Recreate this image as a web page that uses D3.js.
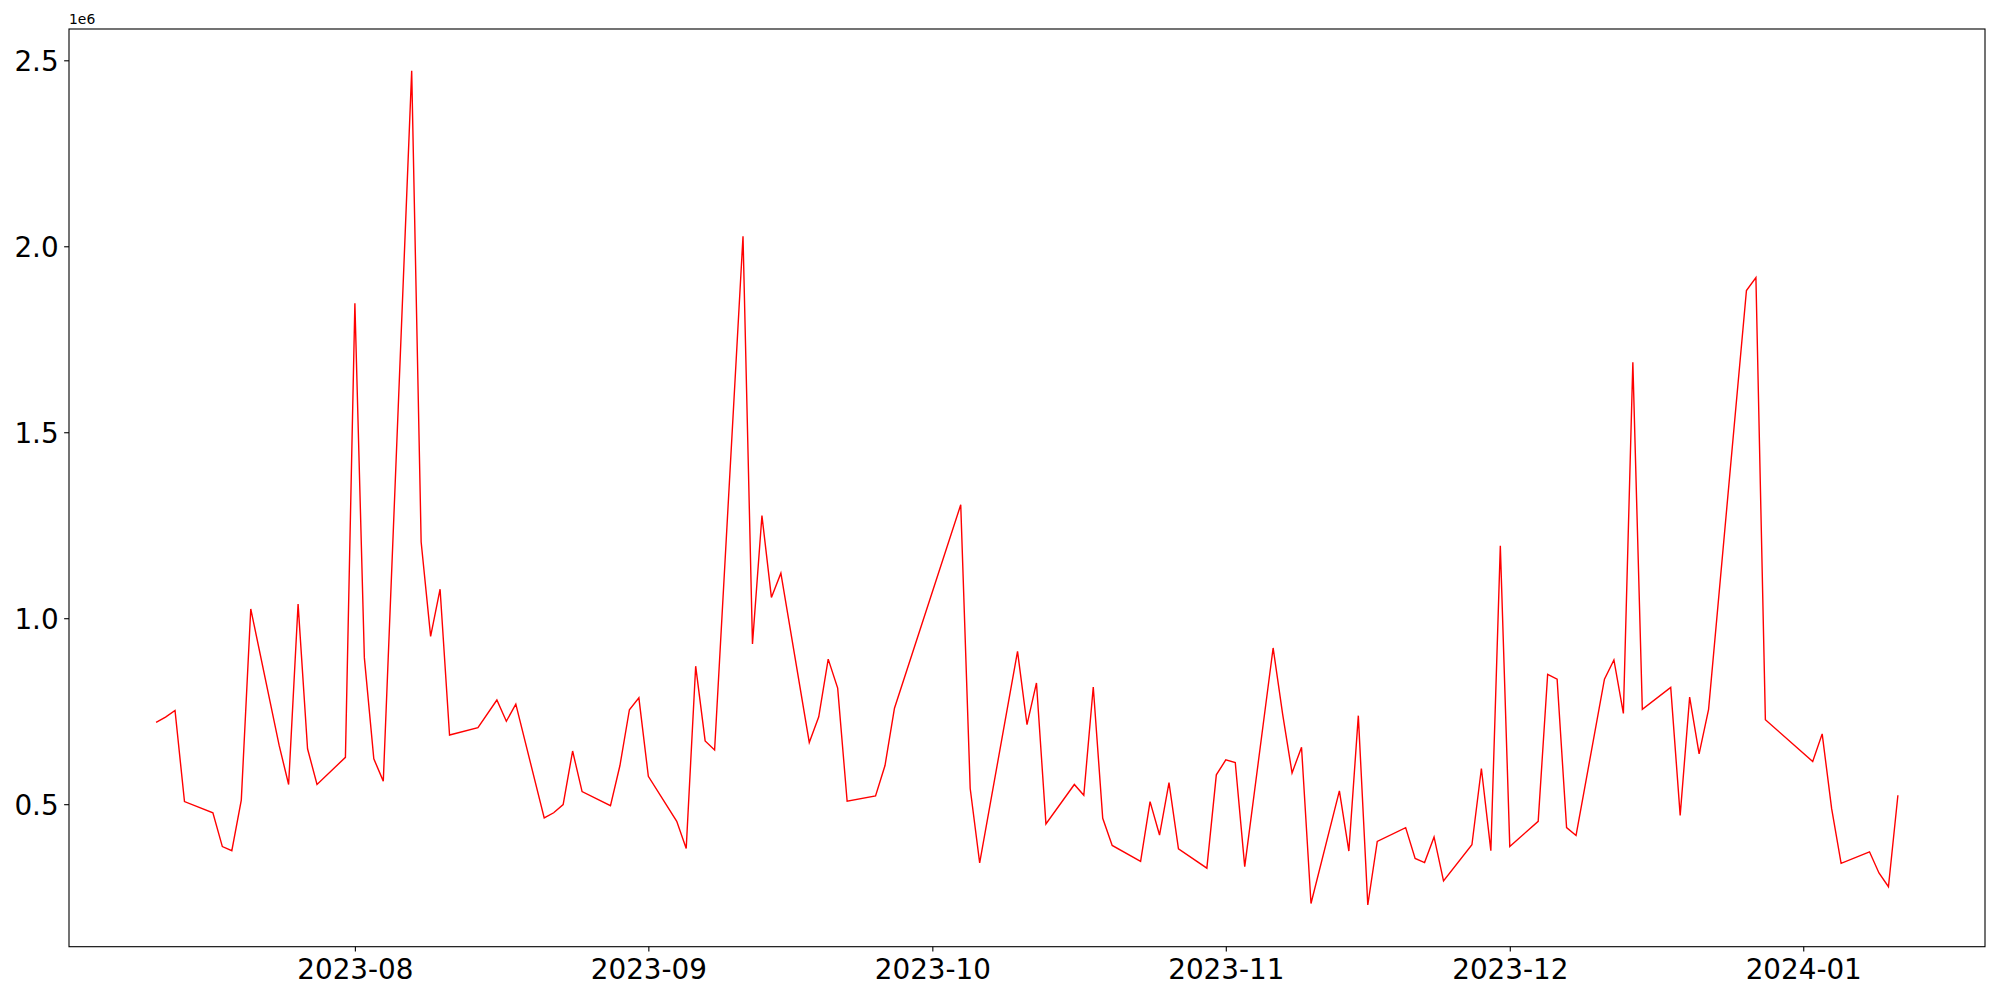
<!DOCTYPE html>
<html>
<head>
<meta charset="utf-8">
<script src="https://cdn.jsdelivr.net/npm/d3@7"></script>
<style>
  html, body { margin: 0; padding: 0; background: #fff; }
  svg { display: block; }
  text { font-family: "DejaVu Sans", sans-serif; fill: #000; }
</style>
</head>
<body>
<svg id="chart" width="2000" height="1000"></svg>
<script>
const dates = [
  "2023-07-11","2023-07-12","2023-07-13","2023-07-14","2023-07-17","2023-07-18","2023-07-19","2023-07-20","2023-07-21",
  "2023-07-24","2023-07-25","2023-07-26","2023-07-27","2023-07-28","2023-07-31",
  "2023-08-01","2023-08-02","2023-08-03","2023-08-04","2023-08-07","2023-08-08","2023-08-09","2023-08-10","2023-08-11",
  "2023-08-14","2023-08-16","2023-08-17","2023-08-18","2023-08-21","2023-08-22","2023-08-23","2023-08-24","2023-08-25",
  "2023-08-28","2023-08-29","2023-08-30","2023-08-31","2023-09-01",
  "2023-09-04","2023-09-05","2023-09-06","2023-09-07","2023-09-08","2023-09-11","2023-09-12","2023-09-13","2023-09-14","2023-09-15",
  "2023-09-18","2023-09-19","2023-09-20","2023-09-21","2023-09-22","2023-09-25","2023-09-26","2023-09-27",
  "2023-10-04","2023-10-05","2023-10-06","2023-10-10","2023-10-11","2023-10-12","2023-10-13",
  "2023-10-16","2023-10-17","2023-10-18","2023-10-19","2023-10-20","2023-10-23","2023-10-24","2023-10-25","2023-10-26","2023-10-27",
  "2023-10-30","2023-10-31","2023-11-01","2023-11-02","2023-11-03","2023-11-06","2023-11-07","2023-11-08","2023-11-09","2023-11-10",
  "2023-11-13","2023-11-14","2023-11-15","2023-11-16","2023-11-17","2023-11-20","2023-11-21","2023-11-22","2023-11-23","2023-11-24",
  "2023-11-27","2023-11-28","2023-11-29","2023-11-30","2023-12-01",
  "2023-12-04","2023-12-05","2023-12-06","2023-12-07","2023-12-08","2023-12-11","2023-12-12","2023-12-13","2023-12-14","2023-12-15",
  "2023-12-18","2023-12-19","2023-12-20","2023-12-21","2023-12-22","2023-12-26","2023-12-27","2023-12-28",
  "2024-01-02","2024-01-03","2024-01-04","2024-01-05","2024-01-08","2024-01-09","2024-01-10","2024-01-11"
];
const values = [
  720000,734000,752000,507000,477000,386000,375000,511000,1025000,
  658000,553000,1038000,649000,553000,626000,
  1847000,894000,622000,562000,2472000,1205000,951000,1078000,686000,
  706000,780000,723000,769000,463000,477000,499000,643000,534000,
  496000,604000,754000,786000,575000,
  454000,381000,871000,670000,646000,2027000,931000,1276000,1056000,1121000,
  666000,735000,890000,812000,508000,522000,604000,758000,
  1305000,542000,342000,911000,714000,826000,447000,
  553000,524000,815000,462000,389000,346000,507000,417000,558000,380000,
  328000,579000,619000,612000,332000,920000,743000,584000,653000,233000,
  536000,374000,738000,229000,400000,437000,354000,343000,412000,294000,
  391000,596000,375000,1195000,386000,
  454000,849000,836000,437000,416000,836000,888000,744000,1688000,755000,
  814000,470000,788000,635000,755000,1881000,1916000,727000,
  615000,689000,488000,341000,372000,315000,278000,524000
];
const xTickDates = ["2023-08-01","2023-09-01","2023-10-01","2023-11-01","2023-12-01","2024-01-01"];
const yTickValues = [500000,1000000,1500000,2000000,2500000];
const yOffsetLabel = "1e6";

const parse = d3.utcParse("%Y-%m-%d");
const data = dates.map((d, i) => ({ date: parse(d), value: values[i] }));

const L = 69, R = 1985, T = 29, B = 946.7;
const svg = d3.select("#chart");

const xExt = d3.extent(data, d => d.date);
const xPad = (xExt[1] - xExt[0]) * 0.05;
const x = d3.scaleUtc()
  .domain([new Date(+xExt[0] - xPad), new Date(+xExt[1] + xPad)])
  .range([L, R]);
const yExt = d3.extent(data, d => d.value);
const yPad = (yExt[1] - yExt[0]) * 0.05;
const y = d3.scaleLinear()
  .domain([yExt[0] - yPad, yExt[1] + yPad])
  .range([B, T]);

const fontSize = 27.8;
const tickLen = 4.86;

// X axis
const xAxis = d3.axisBottom(x)
  .tickValues(xTickDates.map(parse))
  .tickFormat(d3.utcFormat("%Y-%m"))
  .tickSize(tickLen)
  .tickPadding(7.9)
  .tickSizeOuter(0);
const gx = svg.append("g").attr("transform", `translate(0,${B})`).call(xAxis);
gx.select(".domain").remove();
gx.selectAll(".tick line").attr("stroke", "#000").attr("stroke-width", 1.1);
gx.selectAll(".tick text").attr("font-size", fontSize).attr("font-family", "DejaVu Sans").attr("fill", "#000");

// Y axis
const yAxis = d3.axisLeft(y)
  .tickValues(yTickValues)
  .tickFormat(v => (v / 1e6).toFixed(1))
  .tickSize(tickLen)
  .tickPadding(5.5)
  .tickSizeOuter(0);
const gy = svg.append("g").attr("transform", `translate(${L},0)`).call(yAxis);
gy.select(".domain").remove();
gy.selectAll(".tick line").attr("stroke", "#000").attr("stroke-width", 1.1);
gy.selectAll(".tick text").attr("font-size", fontSize).attr("font-family", "DejaVu Sans").attr("fill", "#000").attr("dy", "0.363em");

// Offset label
svg.append("text")
  .attr("x", L)
  .attr("y", T - 5)
  .attr("font-size", 13.9)
  .text(yOffsetLabel);

// Line
const line = d3.line().x(d => x(d.date)).y(d => y(d.value));
svg.append("path")
  .datum(data)
  .attr("d", line)
  .attr("fill", "none")
  .attr("stroke", "#ff0000")
  .attr("stroke-width", 1.4)
  .attr("stroke-linejoin", "miter");

// Frame
svg.append("rect")
  .attr("x", L).attr("y", T)
  .attr("width", R - L).attr("height", B - T)
  .attr("fill", "none")
  .attr("stroke", "#000")
  .attr("stroke-width", 1.1);
</script>
</body>
</html>
